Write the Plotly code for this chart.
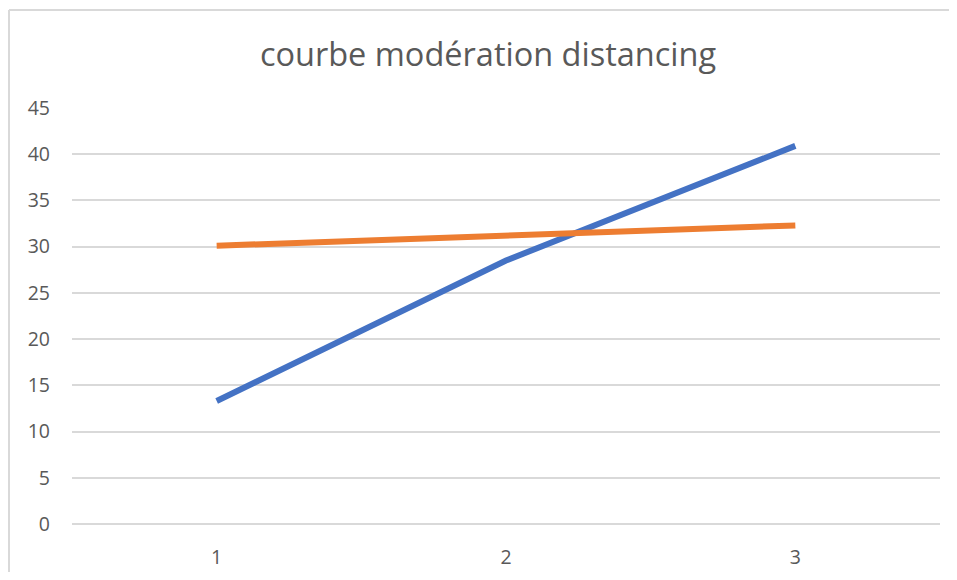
import plotly.graph_objects as go

categories = ["1", "2", "3"]
series_blue = [13.3, 28.5, 40.9]
series_orange = [30.1, 31.2, 32.3]
y_ticks = [0, 5, 10, 15, 20, 25, 30, 35, 40, 45]
title_text = "courbe modération distancing"

# page body has an 8px margin; keep the figure inside the window
OFF = 8
W, H = 957 - 2 * OFF, 580 - 2 * OFF
ml, mt = 72 - OFF, 108 - OFF
mr = W - (940 - OFF)
mb = H - (524 - OFF)

fig = go.Figure()
fig.add_trace(go.Scatter(x=categories, y=series_blue, mode="lines",
                         line=dict(color="#4472C4", width=6), showlegend=False))
fig.add_trace(go.Scatter(x=categories, y=series_orange, mode="lines",
                         line=dict(color="#ED7D31", width=6), showlegend=False))

pw = W - ml - mr
ph = H - mt - mb
# outer chart border (top and left edges visible)
bx = (1 - ml) / pw
by = (H - (10 - OFF) - mb) / ph
fig.add_shape(type="line", xref="paper", yref="paper", x0=bx, x1=(W - ml) / pw,
              y0=by, y1=by, line=dict(color="#D9D9D9", width=2))
fig.add_shape(type="line", xref="paper", yref="paper", x0=bx, x1=bx,
              y0=by, y1=(-mb) / ph, line=dict(color="#D9D9D9", width=2))

fig.update_layout(
    width=W, height=H,
    margin=dict(l=ml, r=mr, t=mt, b=mb, autoexpand=False),
    paper_bgcolor="white", plot_bgcolor="white",
    title=dict(text=title_text, x=(488 - OFF) / W, xanchor="center",
               y=1 - (55 - OFF) / H, yanchor="middle",
               font=dict(family="Open Sans", size=32.5, color="#595959")),
    xaxis=dict(type="category", range=[-0.5, 2.5], showgrid=False, showline=False,
               zeroline=False, ticks="", ticklabelstandoff=19, automargin=False,
               tickfont=dict(family="Open Sans", size=19.5, color="#595959")),
    yaxis=dict(range=[0, 45], tickvals=y_ticks, showgrid=True, gridcolor="#D9D9D9",
               gridwidth=1.5, zeroline=True, zerolinecolor="#D9D9D9", zerolinewidth=1.5,
               showline=False, ticks="", ticklabelstandoff=21, automargin=False,
               tickfont=dict(family="Open Sans", size=19.5, color="#595959")),
)

fig.write_html("out.html")
